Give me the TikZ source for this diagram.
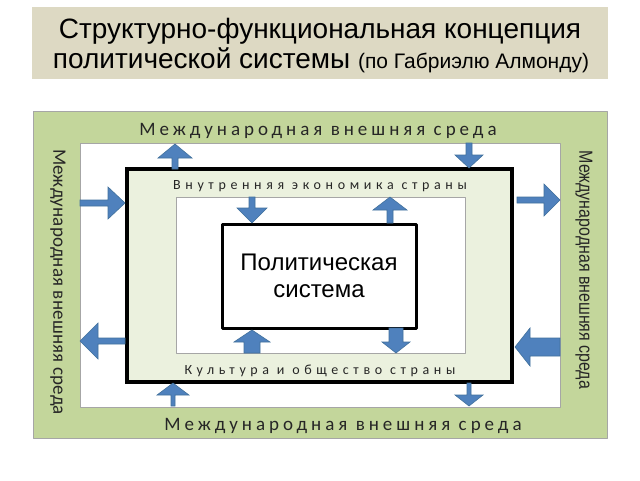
\documentclass[tikz,border=0pt]{standalone}
\usepackage{fontspec}
\setmainfont{Liberation Sans}
\newfontfamily\calfont{Carlito}
\newfontfamily\narrowfont[FakeStretch=0.84]{Liberation Sans}
\definecolor{titlebg}{HTML}{DDD9C3}
\definecolor{worldgreen}{HTML}{C3D69B}
\definecolor{homegreen}{HTML}{EBF1DE}
\definecolor{arrowblue}{HTML}{4F81BD}
\definecolor{arrowedge}{HTML}{41719C}
\definecolor{textgray}{HTML}{262626}
\tikzset{
  frame/.style={draw=gray!70, line width=0.8pt},
  blockarrow/.style={fill=arrowblue, draw=arrowedge, line width=0.6pt, line join=miter},
  spaced/.style={inner sep=0pt, anchor=base, text=textgray},
}
% vertical block arrow: x, base y, tip y, half shaft, half head, head base y
\newcommand\vblock[6]{%
  \filldraw[blockarrow] (#1-#4,#2) -- (#1-#4,#6) -- (#1-#5,#6) -- (#1,#3)
    -- (#1+#5,#6) -- (#1+#4,#6) -- (#1+#4,#2) -- cycle;}
% horizontal block arrow: y, base x, tip x, half shaft, half head, head base x
\newcommand\hblock[6]{%
  \filldraw[blockarrow] (#2,#1-#4) -- (#6,#1-#4) -- (#6,#1-#5) -- (#3,#1)
    -- (#6,#1+#5) -- (#6,#1+#4) -- (#2,#1+#4) -- cycle;}
\begin{document}
\begin{tikzpicture}[x=1pt, y=-1pt, line join=round]
  \useasboundingbox[fill=white] (0,0) rectangle (640,480);
  % title
  \fill[titlebg] (32,7) rectangle (608,79);
  \node[spaced, text=black, font=\fontsize{28}{32}\selectfont] (title1) at (320,38)
    {Структурно-функциональная концепция};
  \node[spaced, text=black, font=\fontsize{28}{32}\selectfont] (title2) at (321,68)
    {политической системы {\fontsize{21}{24}\selectfont (по Габриэлю Алмонду)}};
  % nested environments
  \filldraw[fill=worldgreen, frame] (33,111) rectangle (607,438);
  \filldraw[fill=white, frame] (80,143) rectangle (560,407);
  \filldraw[fill=homegreen, draw=black, line width=4pt, line join=miter] (127,169) rectangle (512,382);
  \filldraw[fill=white, frame] (176,197) rectangle (465,353);
  \node[draw=black, line width=3pt, fill=white, minimum width=194pt, minimum height=104pt,
    align=center, font=\fontsize{24}{27}\selectfont] (polsys) at (319,276)
    {Политическая\\система};
  % labels
  \node[spaced, font=\calfont\addfontfeature{LetterSpace=21}\fontsize{19}{22}\selectfont] (worldtop) at (318,135)
    {Международная внешняя среда};
  \node[spaced, font=\calfont\addfontfeature{LetterSpace=21}\fontsize{19}{22}\selectfont] (worldbot) at (343,430)
    {Международная внешняя среда};
  \node[spaced, font=\calfont\addfontfeature{LetterSpace=33}\fontsize{14}{17}\selectfont] (economy) at (320,189)
    {Внутренняя экономика страны};
  \node[spaced, font=\calfont\addfontfeature{LetterSpace=33}\fontsize{14}{17}\selectfont] (culture) at (320,374)
    {Культура и общество страны};
  \node[inner sep=0pt, rotate=-90, text=textgray, font=\calfont\addfontfeature{LetterSpace=1}\fontsize{19}{22}\selectfont] (worldleft) at (58,282)
    {Международная внешняя среда};
  \node[inner sep=0pt, rotate=-90, text=textgray, font=\narrowfont\fontsize{19}{22}\selectfont] (worldright) at (584,270)
    {Международная внешняя среда};
  % exchange arrows
  \vblock{175}{169}{144}{3}{17}{158}
  \vblock{469}{143}{168}{3}{14}{155}
  \vblock{173}{406}{383}{2}{16}{395}
  \vblock{469}{383}{406}{2}{14}{395}
  \vblock{252}{197}{223}{3}{15}{208}
  \vblock{390}{223}{197}{3}{17}{210}
  \vblock{252}{353}{330}{8}{18}{342}
  \vblock{396}{328}{353}{7}{14}{342}
  \hblock{203}{80}{125}{3}{16}{108}
  \hblock{200}{517}{560}{3}{16}{544}
  \hblock{341}{125}{80}{3}{18}{98}
  \hblock{347}{560}{515}{9}{19}{530}
\end{tikzpicture}
\end{document}
